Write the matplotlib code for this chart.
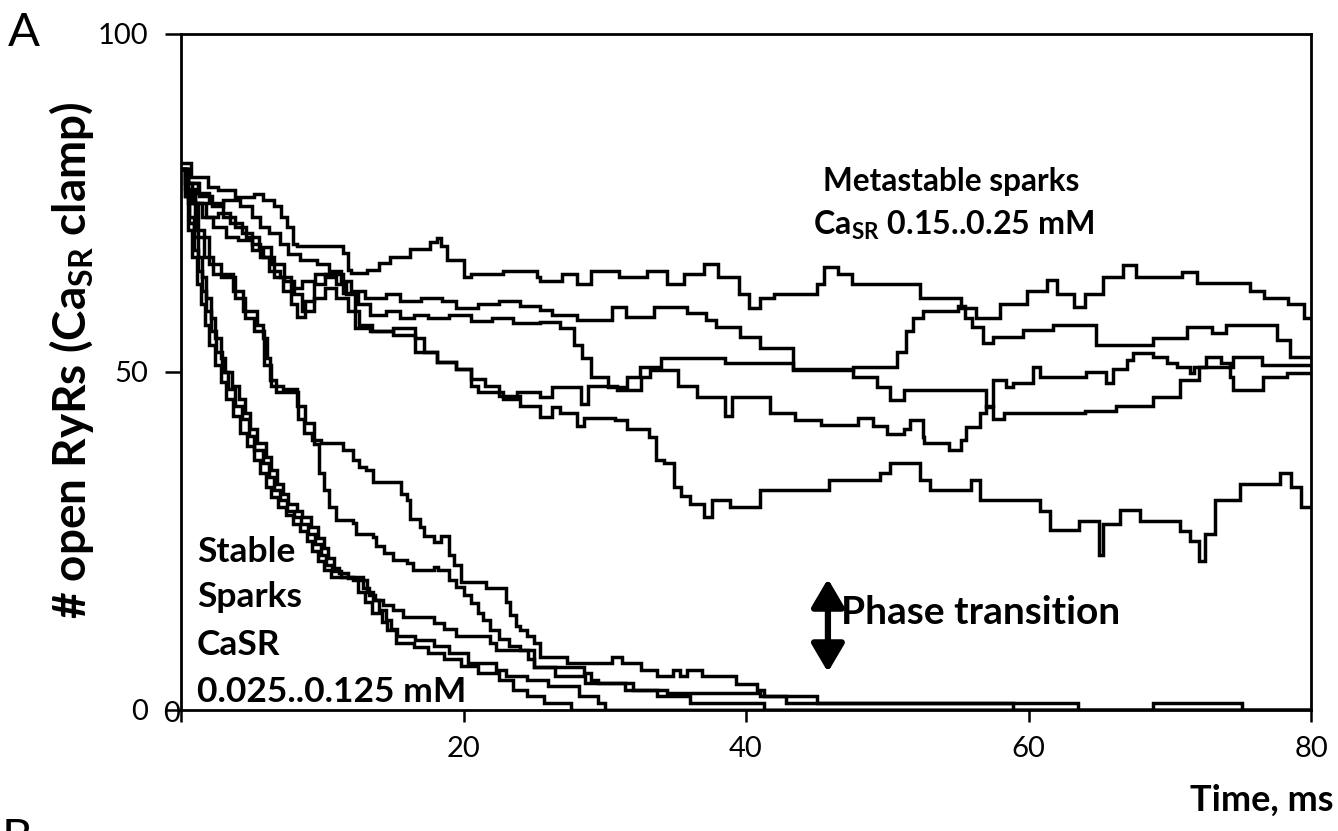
import matplotlib
matplotlib.use('Agg')
import matplotlib.pyplot as plt

plt.rcParams['font.family'] = ['Lato', 'DejaVu Sans']
plt.rcParams['mathtext.fontset'] = 'custom'
plt.rcParams['mathtext.rm'] = 'Lato'
plt.rcParams['mathtext.bf'] = 'Lato:bold'

# ---------------- data: (time ms, # open RyRs) step breakpoints ----------------
meta_A = [(0, 80.9), (0.7, 78.9), (1.9, 77.4), (2.6, 76.9), (3.8, 75.9), (5.2, 76.4), (5.8, 75.4),
          (6.6, 74.5), (7.1, 73.0), (7.5, 71.5), (7.9, 69.0), (8.2, 68.6), (11.5, 67.6), (11.8, 65.1),
          (12.0, 64.6), (13.2, 65.1), (14.0, 66.1), (14.8, 67.0), (16.2, 68.2), (17.6, 69.3), (18.1, 69.8),
          (18.4, 68.6), (18.8, 66.5), (20.0, 64.0), (20.5, 64.5), (22.8, 65.0), (25.2, 64.0), (25.4, 63.5),
          (27.0, 64.5), (28.0, 63.0), (29.0, 65.0), (31.0, 64.0), (33.0, 65.0), (34.4, 63.0), (35.6, 64.5),
          (37.0, 66.0), (38.0, 64.0), (39.5, 61.5), (40.2, 59.5), (41.0, 61.0), (42.0, 61.5), (45.0, 63.0),
          (45.5, 65.5), (46.5, 64.5), (47.5, 63.0), (52.3, 61.0), (53.7, 61.0), (55.2, 59.5), (56.3, 58.0),
          (58.0, 60.0), (59.9, 62.0), (61.3, 63.6), (62.0, 61.5), (63.2, 59.6), (64.0, 61.5), (65.3, 64.0),
          (66.7, 65.8), (67.6, 64.0), (70.9, 64.8), (71.9, 63.2), (75.7, 62.0), (76.7, 61.0), (78.4, 60.0),
          (79.5, 58.0), (80, 58.0)]
meta_B = [(0, 80), (0.5, 78), (1.3, 76), (2.2, 74.5), (3.0, 75.5), (4.2, 74.5), (5.0, 73), (5.6, 71.5),
          (6.2, 70.5), (7.0, 69), (7.6, 67.5), (8.4, 66.5), (9.6, 66), (10.5, 65), (11.3, 63.5), (12.0, 62),
          (13.0, 61), (14.5, 61.5), (15.5, 60.5), (17.0, 61), (18.5, 60.5), (19.5, 59.5), (21.0, 60),
          (22.5, 60.5), (24.0, 59.8), (25.4, 59.2), (26.3, 58.5), (28.0, 57.7), (30.5, 59.6), (31.5, 58.2),
          (33.5, 59.6), (35.8, 58.7), (37.2, 57.7), (37.9, 56.7), (39.6, 55.2), (41.0, 53.5), (43.3, 50.3),
          (47.6, 50.7), (50.7, 53), (51.3, 56), (51.8, 58), (52.5, 59), (55.0, 59.8), (55.5, 58), (56.0, 56.7),
          (56.8, 54.3), (57.5, 55.2), (59.6, 56.2), (61.7, 57), (64.8, 54), (68.8, 55), (71.2, 56.7),
          (73.0, 55.8), (74.0, 57), (77.6, 54.7), (78.5, 52.2), (80, 52.2)]
meta_C = [(0, 80), (0.4, 77), (1.0, 75), (1.8, 73), (2.6, 73.5), (3.5, 72), (4.3, 70.5), (5.0, 69),
          (5.6, 67), (6.2, 65), (7.0, 64), (7.8, 62.5), (8.6, 63.5), (9.5, 64.5), (10.2, 64), (11.0, 63),
          (11.7, 61.5), (12.5, 60), (13.4, 58.5), (14.5, 59), (15.5, 58), (16.5, 58.5), (17.5, 58),
          (19.0, 58.5), (20.5, 57.5), (22.0, 58), (23.5, 57.3), (25.4, 57.4), (26.8, 56.5), (27.8, 54),
          (28.4, 52), (29.0, 49.3), (30.2, 47.8), (31.6, 49.3), (32.5, 50.8), (34.0, 52), (38.5, 51.3),
          (43.3, 50.5), (47.6, 49.3), (49.3, 47.8), (50.2, 45.8), (51.2, 47.3), (57.0, 44.8), (57.5, 43),
          (58.3, 43.9), (64.0, 44.2), (66.2, 45), (68.8, 46.3), (70.7, 48.8), (72.1, 50.8), (74.5, 52.2),
          (76.5, 51), (80, 51)]
meta_D = [(0, 80), (0.5, 78), (1.2, 76.5), (2.0, 75), (3.0, 73), (3.8, 71.5), (4.6, 70), (5.5, 68.5),
          (6.4, 66), (7.3, 63.5), (8.0, 61.5), (8.6, 59), (9.4, 61), (10.2, 62.5), (11.0, 61), (11.8, 59),
          (12.6, 57), (13.5, 56), (15.0, 56.5), (16.6, 55), (17.2, 53), (18.1, 51.5), (19.5, 50.5),
          (20.5, 48), (21.0, 47), (22.8, 46), (23.8, 47), (25.4, 46.3), (26.3, 47.8), (28.3, 45.3),
          (28.8, 48), (30.9, 47.3), (32.6, 49.3), (33.2, 50.3), (35.2, 48), (36.5, 46.3), (38.5, 43.5),
          (39.0, 46.3), (41.7, 44), (43.5, 42.9), (45.3, 42.2), (47.9, 43.2), (49.0, 42), (50.0, 40.9),
          (51.2, 41.5), (51.6, 42.9), (52.5, 40.4), (52.6, 39.5), (54.4, 38.5), (55.2, 40), (55.6, 41.9),
          (56.6, 43.9), (57.0, 45), (57.5, 48.8), (58.4, 47.8), (58.9, 48.4), (60.3, 50.8), (60.8, 49.3),
          (64.1, 50), (65.5, 48.4), (66.0, 50.4), (67.0, 51.8), (67.4, 52.8), (68.8, 52.2), (69.8, 51.3),
          (70.5, 50.8), (71.4, 49.8), (71.7, 50.8), (72.6, 52.2), (73.6, 51.3), (74.3, 49.3), (74.5, 47.3),
          (76.6, 49.3), (78.3, 49.8), (80, 49.8)]
meta_E = [(0, 80), (0.3, 78), (0.8, 75), (1.5, 73), (2.3, 71.5), (3.2, 70), (4.0, 69.5), (5.0, 68),
          (5.8, 67), (6.6, 64), (7.2, 62), (7.8, 60), (8.2, 58.2), (8.8, 60.5), (9.4, 63), (10.2, 64.5),
          (11.5, 61.7), (12.3, 56.5), (13.4, 56), (15.0, 55.5), (16.6, 53), (18.1, 51.5), (19.5, 50.5),
          (20.5, 49), (21.5, 48), (22.5, 46.5), (24.0, 45), (25.4, 43.4), (26.3, 44.8), (26.8, 43.9),
          (28.0, 42), (28.5, 43.2), (30.7, 42.9), (31.6, 41.5), (33.1, 40.4), (33.6, 37), (34.2, 36.5),
          (34.9, 33), (35.4, 31.6), (36.0, 30.5), (37.0, 28.5), (37.6, 31), (38.9, 30), (41.0, 32.5),
          (45.9, 34), (49.5, 35), (50.2, 36.5), (52.3, 34), (53.0, 32.5), (55.9, 34), (56.6, 31),
          (60.8, 29.5), (61.5, 26.6), (63.6, 28), (65.0, 23), (65.3, 27.5), (66.5, 29.6), (67.9, 28),
          (70.7, 26.5), (71.4, 25), (72.1, 22), (72.5, 26), (73.2, 31), (75.0, 33.5), (77.8, 35),
          (78.6, 33), (79.3, 30), (80, 30)]

stab_1 = [(0, 80), (0.4, 76), (1.0, 71), (1.6, 67), (2.3, 64.5), (3.7, 62), (4.4, 59), (5.4, 57),
          (5.8, 55), (6.1, 52), (6.3, 48.8), (6.7, 47), (8.3, 43), (8.7, 41), (9.3, 40), (9.9, 39.5),
          (11.5, 38.5), (12.2, 37), (12.6, 36), (13.1, 35.5), (13.6, 33.7), (15.6, 32), (16.0, 31),
          (16.2, 28.3), (16.9, 27), (17.2, 25.8), (17.9, 24.8), (18.4, 25.8), (19.0, 23), (19.3, 21.5),
          (19.8, 19), (21.6, 18), (23.0, 16), (23.3, 14), (23.7, 12.5), (24.0, 11.8), (24.5, 10.9),
          (25.0, 9.9), (25.4, 7.9), (27.3, 6.9), (30.5, 7.9), (31.2, 6.9), (32.6, 5.9), (33.7, 5.0),
          (34.8, 5.9), (35.3, 5.0), (35.8, 5.9), (36.9, 5.0), (39.3, 3.8), (40.8, 3.0), (41.3, 2.0),
          (45.0, 1.0), (58.9, 0), (80, 0)]
stab_2 = [(0, 80), (0.5, 75), (1.2, 70), (2.0, 66), (2.8, 64), (3.8, 61), (4.5, 58), (5.2, 56),
          (5.9, 51), (6.4, 48), (7.2, 47.5), (8.2, 45), (8.8, 42.5), (9.4, 39.4), (9.8, 35), (10.1, 32.6),
          (10.5, 30.1), (11.0, 28.1), (12.2, 27.6), (12.4, 26.1), (13.6, 25.6), (13.8, 24.2), (14.4, 23.2),
          (15.0, 22.2), (16.0, 21.7), (16.4, 20.7), (17.9, 21.2), (18.2, 20.7), (19.0, 19.2), (19.5, 18.2),
          (20.0, 17.0), (20.5, 15.8), (21.0, 14.3), (21.4, 13.3), (21.9, 11.8), (22.5, 10.5), (23.2, 9.5),
          (24.0, 8.9), (25.0, 6.4), (28.5, 5.5), (29.0, 4.5), (29.5, 4.0), (32.0, 3.0), (34.4, 2.5),
          (41.0, 2.0), (42.8, 1.0), (63.5, 0), (68.8, 1.0), (75.1, 0), (80, 0)]
stab_3 = [(0, 80), (0.3, 77), (0.6, 73), (0.9, 70), (1.2, 67), (1.5, 64), (1.8, 61), (2.1, 58),
          (2.4, 55), (2.8, 52), (3.1, 50), (3.6, 48), (4.1, 46), (4.5, 44), (4.9, 41.5), (5.4, 39.5),
          (6.0, 37.5), (6.4, 35.5), (6.8, 33.5), (7.2, 32), (7.6, 30.5), (8.2, 29.5), (8.6, 28.5),
          (9.2, 27), (9.7, 25.5), (10.1, 24), (10.4, 22.5), (10.8, 21), (11.2, 20.2), (11.8, 19.6),
          (12.6, 19.2), (12.9, 18), (13.3, 17), (13.7, 16.3), (14.3, 15.6), (15.0, 14.8), (15.7, 13.8),
          (17.9, 12.8), (18.6, 12.0), (19.5, 10.9), (21.9, 9.9), (22.3, 8.9), (24.6, 7.5), (25.0, 6.4),
          (26.5, 5.0), (28.6, 4.0), (31.4, 3.0), (33.7, 2.0), (36.0, 1.0), (41.3, 0), (80, 0)]
stab_4 = [(0, 80), (0.3, 76), (0.6, 72), (0.9, 68), (1.2, 65), (1.5, 62), (1.8, 59), (2.1, 56),
          (2.5, 53), (2.9, 50), (3.3, 47.5), (3.8, 45), (4.3, 43), (4.8, 40.5), (5.2, 38.5), (5.8, 36.5),
          (6.2, 34.5), (6.6, 32.5), (7.0, 31), (7.5, 29.5), (8.0, 28.5), (8.5, 27.5), (9.0, 26),
          (9.5, 24.5), (9.9, 23), (10.3, 21.5), (10.7, 20.5), (11.3, 19.7), (12.9, 19.2), (13.2, 17.5),
          (13.6, 16.3), (14.0, 14.8), (14.5, 13.3), (14.9, 12), (15.3, 10.9), (16.6, 10.4), (17.9, 9.4),
          (19.0, 8.4), (20.3, 6.9), (22.3, 5.9), (23.0, 5.0), (24.5, 4.5), (26.0, 3.5), (28.2, 2.0),
          (29.5, 1.0), (30.0, 0), (80, 0)]
stab_5 = [(0, 80), (0.25, 76), (0.5, 71), (0.8, 67), (1.1, 63), (1.4, 60), (1.7, 57), (2.0, 54),
          (2.4, 51), (2.8, 48.5), (3.2, 46), (3.7, 43.5), (4.2, 41), (4.7, 39), (5.2, 37), (5.6, 35),
          (6.0, 33), (6.4, 31.5), (6.9, 30), (7.4, 28.8), (7.9, 27.5), (8.4, 26.5), (8.9, 25), (9.3, 23.5),
          (9.7, 22), (10.1, 20.7), (10.6, 19.7), (12.2, 19.2), (12.5, 17.5), (13.0, 16), (13.5, 14.3),
          (14.2, 13), (14.6, 11.8), (15.2, 9.9), (16.5, 9.3), (17.5, 8.4), (18.6, 7.5), (19.8, 6.5),
          (21.0, 5.5), (22.5, 4.5), (23.5, 3.0), (24.5, 2.0), (25.7, 1.0), (27.6, 0), (80, 0)]

metastable_traces = [meta_A, meta_B, meta_C, meta_D, meta_E]
stable_traces = [stab_1, stab_2, stab_3, stab_4, stab_5]

x_ticks = [0, 20, 40, 60, 80]
x_ticklabels = ['', '20', '40', '60', '80']
y_ticks = [0, 50, 100]
y_ticklabels = ['0', '50', '100']

# ---------------- figure ----------------
W, H = 1338, 831
fig = plt.figure(figsize=(W / 100, H / 100), dpi=100)
ax = fig.add_axes([181 / W, 1 - 710 / H, (1311 - 181) / W, (710 - 34) / H])

for tr in metastable_traces + stable_traces:
    t = [p[0] for p in tr]
    v = [p[1] for p in tr]
    ax.step(t, v, where='post', color='black', lw=2.5, solid_joinstyle='miter')

ax.set_xlim(0, 80)
ax.set_ylim(0, 100)
ax.set_xticks(x_ticks)
ax.set_xticklabels(x_ticklabels)
ax.set_yticks(y_ticks)
ax.set_yticklabels(y_ticklabels)
for s in ax.spines.values():
    s.set_linewidth(2.0)
    s.set_color('black')
ax.tick_params(axis='y', direction='out', length=11.5, width=1.8, labelsize=21, pad=12)
ax.tick_params(axis='x', direction='out', length=8.5, width=1.8, labelsize=21, pad=10)

# x "0" label placed like the original
fig.text(172 / W, 1 - 714 / H, '0', ha='center', va='center', fontsize=21)

fig.text(72 / W, 1 - 360 / H, r'# open RyRs (Ca$_{\mathbf{SR}}$ clamp)', rotation=90,
         ha='center', va='center', fontsize=33, fontweight='bold')
fig.text(1262 / W, 1 - 800 / H, 'Time, ms', ha='center', va='center', fontsize=26, fontweight='bold')

fig.text(8 / W, 1 - 46 / H, 'A', ha='left', va='baseline', fontsize=34)
fig.text(2 / W, 1 - 818 / H, 'B', ha='left', va='top', fontsize=34)

fig.text(951 / W, 1 - 182 / H, 'Metastable sparks', ha='center', va='center', fontsize=22.7, fontweight='bold')
fig.text(954 / W, 1 - 225 / H, r'Ca$_{\mathbf{SR}}$ 0.15..0.25 mM', ha='center', va='center',
         fontsize=23.2, fontweight='bold')

for txt, yy in [('Stable', 552), ('Sparks', 597), ('CaSR', 645), ('0.025..0.125 mM', 692)]:
    fig.text(197 / W, 1 - yy / H, txt, ha='left', va='center', fontsize=25.5, fontweight='bold')

fig.text(841 / W, 1 - 612 / H, 'Phase transition', ha='left', va='center', fontsize=28, fontweight='bold')

ax.annotate('', xy=(45.8, 5.6), xytext=(45.8, 19.4),
            arrowprops=dict(arrowstyle='<|-|>,head_length=0.85,head_width=0.5', lw=4.5, color='black',
                            shrinkA=0, shrinkB=0, mutation_scale=20))

fig.savefig('out.png', dpi=100)
